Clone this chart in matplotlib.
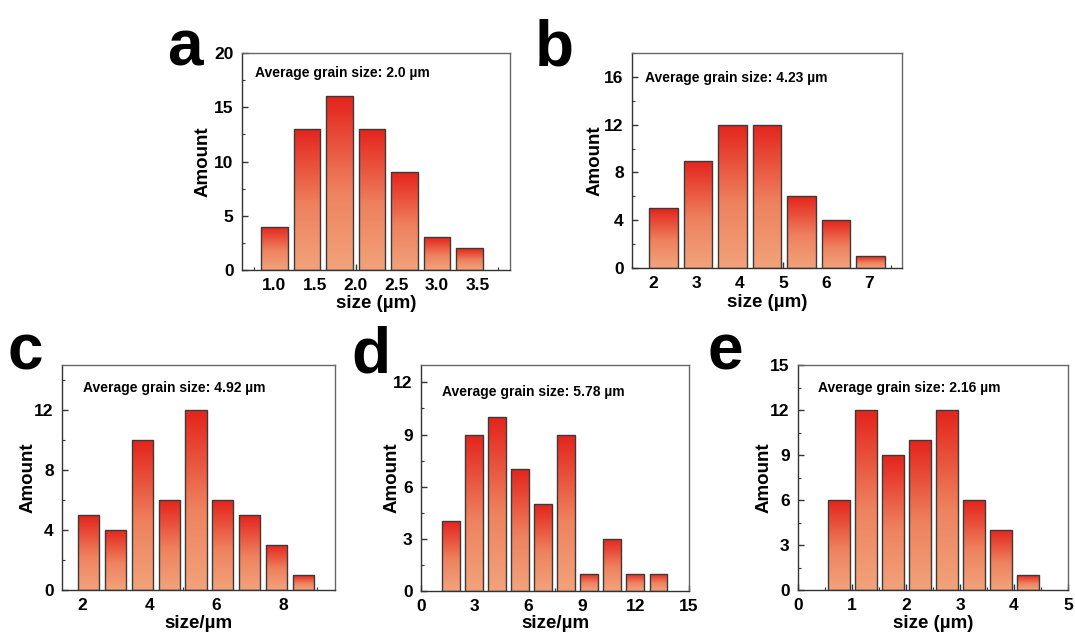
import numpy as np
import matplotlib
matplotlib.use("Agg")
import matplotlib.pyplot as plt
from matplotlib.colors import LinearSegmentedColormap
from matplotlib.ticker import MultipleLocator, AutoMinorLocator

plt.rcParams['font.family'] = ['Liberation Sans', 'DejaVu Sans']
plt.rcParams['font.weight'] = 'bold'

# ---- data ----
a_centers = [1.0, 1.4, 1.8, 2.2, 2.6, 3.0, 3.4]
a_counts = [4, 13, 16, 13, 9, 3, 2]
a_note = "Average grain size: 2.0 µm"

b_centers = [2.23, 3.03, 3.83, 4.63, 5.43, 6.23, 7.03]
b_counts = [5, 9, 12, 12, 6, 4, 1]
b_note = "Average grain size: 4.23 µm"

c_centers = [2.2, 3.0, 3.8, 4.6, 5.4, 6.2, 7.0, 7.8, 8.6]
c_counts = [5, 4, 10, 6, 12, 6, 5, 3, 1]
c_note = "Average grain size: 4.92 µm"

d_centers = [1.68, 2.97, 4.26, 5.55, 6.84, 8.13, 9.42, 10.71, 12.0, 13.29]
d_counts = [4, 9, 10, 7, 5, 9, 1, 3, 1, 1]
d_note = "Average grain size: 5.78 µm"

e_centers = [0.76, 1.26, 1.76, 2.26, 2.76, 3.26, 3.76, 4.26]
e_counts = [6, 12, 9, 10, 12, 6, 4, 1]
e_note = "Average grain size: 2.16 µm"

W, H = 1075, 635
fig = plt.figure(figsize=(W / 100, H / 100), dpi=100)

cmap = LinearSegmentedColormap.from_list(
    "bar", [(0.0, (242/255, 163/255, 123/255)),
            (0.45, (238/255, 130/255, 95/255)),
            (1.0, (228/255, 36/255, 28/255))])
grad = np.linspace(0, 1, 256).reshape(-1, 1)


def panel(box, centers, counts, width, xlim, ylim, xmajor, ymajor, xlabel,
          note, note_px, letter, letter_px, ylab_x, xlab_y, xfmt=None):
    left, right, top, bottom = box
    ax = fig.add_axes([left / W, 1 - bottom / H,
                       (right - left) / W, (bottom - top) / H])
    bars = ax.bar(centers, counts, width=width, facecolor='none',
                  edgecolor='#3a3a3a', linewidth=1.0, zorder=3)
    for rect in bars:
        x0, y0 = rect.get_x(), rect.get_y()
        bw, bh = rect.get_width(), rect.get_height()
        im = ax.imshow(grad, extent=[x0, x0 + bw, y0, y0 + bh], aspect='auto',
                       cmap=cmap, origin='lower', zorder=2,
                       interpolation='bilinear')
        im.set_clip_path(rect)
    ax.set_xlim(*xlim)
    ax.set_ylim(*ylim)
    ax.xaxis.set_major_locator(MultipleLocator(xmajor))
    ax.yaxis.set_major_locator(MultipleLocator(ymajor))
    ax.xaxis.set_minor_locator(AutoMinorLocator(2))
    ax.yaxis.set_minor_locator(AutoMinorLocator(2))
    if xfmt:
        ax.xaxis.set_major_formatter(xfmt)
    ax.tick_params(which='major', direction='in', length=4, width=1,
                   labelsize=12.5, pad=6, color='#333333')
    ax.tick_params(which='minor', direction='in', length=2, width=0.8,
                   color='#333333')
    for lab in ax.get_xticklabels() + ax.get_yticklabels():
        lab.set_fontweight('bold')
    for s in ['left', 'bottom']:
        ax.spines[s].set_color('#333333')
        ax.spines[s].set_linewidth(1.0)
    for s in ['top', 'right']:
        ax.spines[s].set_color('#666666')
        ax.spines[s].set_linewidth(1.0)
    ax.set_xlabel(xlabel, fontsize=13.5, fontweight='bold', va='center')
    ax.set_ylabel("Amount", fontsize=13.5, fontweight='bold', va='center')
    ax.xaxis.set_label_coords(0.5, (bottom - xlab_y) / (bottom - top))
    ax.yaxis.set_label_coords((ylab_x - left) / (right - left), 0.5)
    fig.text(note_px[0] / W, 1 - note_px[1] / H, note, fontsize=10,
             fontweight='bold', ha='left', va='center')
    fig.text(letter_px[0] / W, 1 - letter_px[1] / H, letter, fontsize=46,
             fontweight='bold', ha='left', va='baseline')
    return ax


fmt1 = matplotlib.ticker.FormatStrFormatter('%.1f')

panel((242, 510, 53, 270), a_centers, a_counts, 0.33, (0.6, 3.9), (0, 20), 0.5, 5,
      "size (µm)", a_note, (255, 73), "a", (167, 65), 203, 304, xfmt=fmt1)
panel((632, 902, 53, 268), b_centers, b_counts, 0.65, (1.5, 7.76), (0, 18), 1, 4,
      "size (µm)", b_note, (645, 78), "b", (535, 65), 595, 302)
panel((62, 335, 365, 590), c_centers, c_counts, 0.63, (1.4, 9.55), (0, 15), 2, 4,
      "size/µm", c_note, (83, 388), "c", (8, 370), 28, 624)
panel((421, 689, 365, 591), d_centers, d_counts, 1.0, (0, 15), (0, 13), 3, 3,
      "size/µm", d_note, (442, 392), "d", (351, 372), 392, 624)
panel((798, 1068, 365, 590), e_centers, e_counts, 0.41, (0, 5), (0, 15), 1, 3,
      "size (µm)", e_note, (818, 388), "e", (708, 370), 764, 623)

fig.savefig("out.png", dpi=100)
